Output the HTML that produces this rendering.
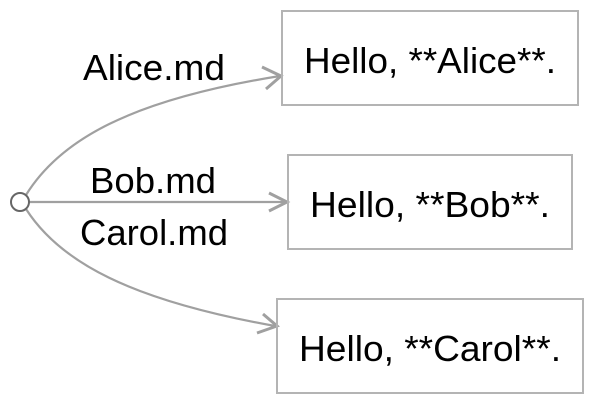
<!DOCTYPE html>
<html><head><style>
html,body{margin:0;padding:0;background:#fff;}
svg{display:block;font-family:"Liberation Sans",Arial,sans-serif;}
</style></head><body>
<svg width="594" height="404" viewBox="0 0 594 404">
<g fill="none" stroke="#a0a0a0" stroke-width="2.2">
<path d="M26,195 C60,140 130,100 280,76"/>
<path d="M29,202 L286,202"/>
<path d="M26,209 C60,262 130,300 275,326"/>
</g>
<g fill="none" stroke="#a0a0a0" stroke-width="3">
<path d="M262,67 L281,76 L266,89"/>
<path d="M269,193 L287,202 L269,211"/>
<path d="M263,314 L277,326 L257,333"/>
</g>
<g fill="none" stroke="#b4b4b4" stroke-width="2">
<rect x="282" y="11" width="296" height="94"/>
<rect x="288" y="155" width="284" height="94"/>
<rect x="277" y="299" width="306" height="94"/>
</g>
<circle cx="20" cy="202" r="9" fill="#fff" stroke="#666" stroke-width="2"/>
<g font-size="36" fill="#000" text-anchor="middle">
<text x="154" y="80" textLength="142" lengthAdjust="spacingAndGlyphs">Alice.md</text>
<text x="153" y="193" textLength="126" lengthAdjust="spacingAndGlyphs">Bob.md</text>
<text x="154" y="245" textLength="148" lengthAdjust="spacingAndGlyphs">Carol.md</text>
<text x="430" y="73" textLength="252" lengthAdjust="spacingAndGlyphs">Hello, **Alice**.</text>
<text x="430" y="217" textLength="240" lengthAdjust="spacingAndGlyphs">Hello, **Bob**.</text>
<text x="430" y="361" textLength="262" lengthAdjust="spacingAndGlyphs">Hello, **Carol**.</text>
</g>
</svg>
</body></html>
